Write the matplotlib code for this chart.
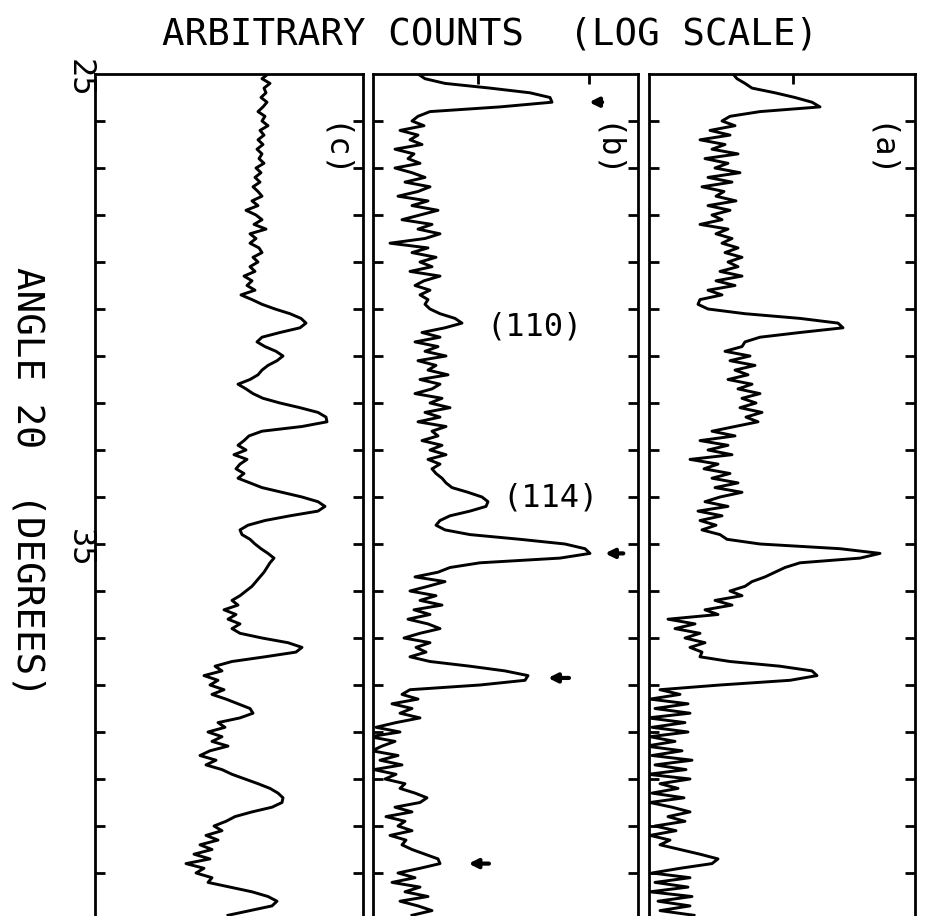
import numpy as np
import matplotlib
matplotlib.use("Agg")
import matplotlib.pyplot as plt
from matplotlib.ticker import NullLocator
from matplotlib.transforms import blended_transform_factory

# ==========================================
# DATA
# ==========================================

# 2-theta scan, 0.1 degree steps
angle = np.round(np.arange(25.0, 42.95, 0.1), 1)

# log10 of counts, one value per scan step
log_c = [
    2.23, 2.17, 2.25, 2.19, 2.21, 2.16, 2.22, 2.18, 2.13, 2.20,
    2.17, 2.23, 2.15, 2.19, 2.13, 2.18, 2.12, 2.17, 2.14, 2.19,
    2.11, 2.16, 2.10, 2.15, 2.08, 2.13, 2.17, 2.07, 2.13, 2.01,
    2.11, 2.17, 2.09, 2.21, 2.05, 2.11, 2.05, 2.14, 2.17, 2.08,
    2.13, 2.05, 2.10, 1.99, 2.07, 2.02, 2.10, 1.96, 2.07, 2.17,
    2.30, 2.45, 2.56, 2.61, 2.55, 2.35, 2.17, 2.12, 2.20, 2.31,
    2.38, 2.32, 2.23, 2.17, 2.13, 2.05, 1.93, 2.01, 2.08, 2.18,
    2.35, 2.55, 2.73, 2.81, 2.82, 2.57, 2.17, 2.04, 1.99, 1.93,
    2.01, 1.89, 2.02, 1.95, 1.91, 1.99, 1.93, 2.05, 2.17, 2.37,
    2.57, 2.73, 2.80, 2.73, 2.45, 2.20, 2.03, 1.95, 1.97, 2.05,
    2.10, 2.16, 2.23, 2.29, 2.25, 2.22, 2.19, 2.15, 2.11, 2.07,
    2.01, 1.95, 1.87, 1.93, 1.79, 1.91, 1.83, 1.95, 1.87, 1.95,
    2.17, 2.43, 2.57, 2.51, 2.20, 1.87, 1.70, 1.77, 1.59, 1.73,
    1.65, 1.79, 1.67, 1.81, 1.93, 2.05, 2.08, 1.95, 1.73, 1.80,
    1.63, 1.77, 1.67, 1.83, 1.65, 1.55, 1.71, 1.61, 1.77, 1.87,
    2.00, 2.13, 2.25, 2.33, 2.38, 2.37, 2.27, 2.07, 1.90, 1.81,
    1.69, 1.77, 1.61, 1.73, 1.55, 1.67, 1.49, 1.65, 1.41, 1.59,
    1.51, 1.67, 1.63, 1.85, 2.07, 2.23, 2.32, 2.27, 2.05, 1.83,
]

log_b = [
    0.40, 0.47, 0.67, 1.12, 1.52, 1.72, 1.74, 1.22, 0.52, 0.40,
    0.34, 0.46, 0.22, 0.40, 0.32, 0.44, 0.17, 0.36, 0.30, 0.42,
    0.17, 0.34, 0.47, 0.27, 0.52, 0.40, 0.20, 0.50, 0.34, 0.60,
    0.42, 0.24, 0.54, 0.40, 0.62, 0.47, 0.12, 0.50, 0.34, 0.58,
    0.42, 0.54, 0.32, 0.62, 0.46, 0.37, 0.52, 0.42, 0.50, 0.47,
    0.52, 0.62, 0.77, 0.84, 0.67, 0.44, 0.62, 0.37, 0.60, 0.47,
    0.68, 0.40, 0.58, 0.50, 0.70, 0.42, 0.62, 0.54, 0.37, 0.64,
    0.52, 0.72, 0.47, 0.62, 0.40, 0.68, 0.54, 0.60, 0.44, 0.64,
    0.52, 0.68, 0.50, 0.62, 0.54, 0.58, 0.64, 0.68, 0.74, 0.90,
    1.04, 1.10, 1.08, 0.92, 0.72, 0.62, 0.58, 0.67, 0.92, 1.42,
    1.87, 2.07, 2.12, 1.82, 1.02, 0.72, 0.60, 0.37, 0.67, 0.50,
    0.32, 0.58, 0.42, 0.64, 0.36, 0.52, 0.30, 0.50, 0.62, 0.42,
    0.26, 0.52, 0.38, 0.48, 0.32, 0.52, 0.92, 1.27, 1.50, 1.47,
    1.02, 0.32, 0.24, 0.40, 0.14, 0.34, 0.22, 0.42, 0.18, -0.02,
    0.22, -0.08, 0.17, 0.04, -0.06, 0.20, 0.02, 0.24, -0.04, 0.18,
    0.07, 0.27, 0.22, 0.37, 0.49, 0.42, 0.17, 0.34, 0.08, 0.27,
    0.20, 0.34, 0.12, 0.28, 0.24, 0.34, 0.47, 0.60, 0.62, 0.42,
    0.20, 0.37, 0.14, 0.42, 0.27, 0.50, 0.22, 0.40, 0.54, 0.34,
]

log_a = [
    1.40, 1.44, 1.52, 1.59, 1.82, 2.02, 2.19, 2.27, 1.67, 1.37,
    1.29, 1.42, 1.17, 1.37, 1.07, 1.32, 1.19, 1.45, 1.12, 1.35,
    1.22, 1.47, 1.15, 1.39, 1.09, 1.31, 1.23, 1.43, 1.15, 1.37,
    1.19, 1.29, 1.07, 1.35, 1.23, 1.39, 1.29, 1.45, 1.32, 1.49,
    1.35, 1.45, 1.27, 1.49, 1.23, 1.42, 1.15, 1.29, 1.07, 1.05,
    1.15, 1.52, 2.07, 2.45, 2.50, 2.07, 1.67, 1.52, 1.49, 1.32,
    1.57, 1.37, 1.62, 1.42, 1.55, 1.35, 1.59, 1.45, 1.67, 1.49,
    1.63, 1.47, 1.69, 1.53, 1.65, 1.42, 1.19, 1.42, 1.07, 1.35,
    1.15, 1.39, 0.97, 1.25, 1.11, 1.37, 1.19, 1.45, 1.22, 1.49,
    1.27, 1.12, 1.35, 1.05, 1.29, 1.07, 1.23, 1.09, 1.27, 1.34,
    1.67, 2.47, 2.87, 2.67, 2.07, 1.92, 1.82, 1.72, 1.59, 1.52,
    1.37, 1.49, 1.22, 1.39, 1.12, 1.25, 0.75, 1.02, 0.82, 1.07,
    0.92, 1.12, 0.97, 1.09, 1.07, 1.37, 1.87, 2.19, 2.24, 1.97,
    1.27, 0.67, 0.87, 0.57, 0.95, 0.62, 0.97, 0.55, 0.92, 0.59,
    0.95, 0.57, 0.82, 0.53, 0.89, 0.59, 0.99, 0.62, 0.93, 0.55,
    0.97, 0.67, 0.85, 0.59, 0.91, 0.57, 0.79, 0.97, 0.75, 0.92,
    0.62, 0.83, 0.57, 0.77, 0.67, 0.87, 1.07, 1.25, 1.19, 0.87,
    0.59, 0.97, 0.62, 0.95, 0.57, 0.99, 0.65, 0.97, 0.67, 1.01,
]

panel_names = ["(c)", "(b)", "(a)"]
# log10 count range of each panel
panel_lims = [(0.50, 3.18), (-0.05, 2.60), (0.56, 3.22)]
# log10 count ticks drawn on the top edge
panel_top_ticks = [[], [1.0, 2.11], [2.0]]

angle_ticks = list(range(26, 43))
angle_labels = [25, 35]

# peaks marked with arrows in (b)
b_arrow_angles = [25.6, 35.2, 37.85, 41.8]
b_arrow_x = [(0.875, 0.805), (0.955, 0.865), (0.750, 0.650), (0.448, 0.350)]

# Miller indices written next to (b)
hkl_labels = ["(110)", "(114)"]
hkl_angles = [30.38, 34.02]
hkl_x = [0.611, 0.668]

# ==========================================
# FIGURE
# ==========================================

font = "DejaVu Sans Mono"
W, H = 927, 916
fig = plt.figure(figsize=(W / 100, H / 100), dpi=100)

lefts = [95, 373, 649]
widths = [268, 265, 266]
top_px = 74
bottom_angle = 25 + (H - top_px) / 47.0

axes = []
for i, (series, name) in enumerate(zip([log_c, log_b, log_a], panel_names)):
    ax = fig.add_axes([lefts[i] / W, 0.0, widths[i] / W, (H - top_px) / H])
    ax.plot(10 ** np.array(series), angle, color="black", linewidth=2.1)
    ax.set_xscale("log")
    lo, hi = panel_lims[i]
    ax.set_xlim(10 ** lo, 10 ** hi)
    ax.set_ylim(bottom_angle, 25.0)

    ax.set_yticks(angle_ticks)
    ax.set_xticks([10 ** t for t in panel_top_ticks[i]])
    ax.xaxis.set_minor_locator(NullLocator())
    ax.yaxis.set_minor_locator(NullLocator())
    ax.tick_params(axis="y", direction="in", left=True, right=True,
                   length=7, width=2, labelleft=False)
    ax.tick_params(axis="x", direction="in", top=True, bottom=False,
                   length=7, width=2, labelbottom=False, labeltop=False)
    for side in ["left", "right", "top"]:
        ax.spines[side].set_linewidth(2)
    ax.spines["bottom"].set_visible(False)

    lx = [0.884, 0.875, 0.861][i]
    ax.text(lx, 26.66, name, transform=ax.get_yaxis_transform(),
            rotation=-90, ha="center", va="center",
            fontsize=23, family=font)
    axes.append(ax)

ax_b = axes[1]
for ang, (x0, x1) in zip(b_arrow_angles, b_arrow_x):
    ax_b.annotate("", xy=(x1, ang), xytext=(x0, ang),
                  xycoords=ax_b.get_yaxis_transform(),
                  textcoords=ax_b.get_yaxis_transform(),
                  arrowprops=dict(arrowstyle="-|>", color="black",
                                  lw=3, mutation_scale=13))

for lab, ang, x in zip(hkl_labels, hkl_angles, hkl_x):
    ax_b.text(x, ang, lab, transform=ax_b.get_yaxis_transform(),
              ha="center", va="center", fontsize=23, family=font)

# angle labels on the left edge
ax_c = axes[0]
tr = blended_transform_factory(fig.transFigure, ax_c.transData)
for val in angle_labels:
    ax_c.text(79 / W, val + 0.1, str(val), transform=tr, rotation=-90,
              ha="center", va="center", fontsize=23, family=font,
              clip_on=False)

fig.text(490 / W, 1 - 35 / H, "ARBITRARY COUNTS  (LOG SCALE)",
         ha="center", va="center", fontsize=27, family=font)
fig.text(27 / W, 1 - 482 / H, "ANGLE 2\u0398  (DEGREES)", rotation=-90,
         ha="center", va="center", fontsize=27, family=font)

fig.savefig("out.png", dpi=100)
